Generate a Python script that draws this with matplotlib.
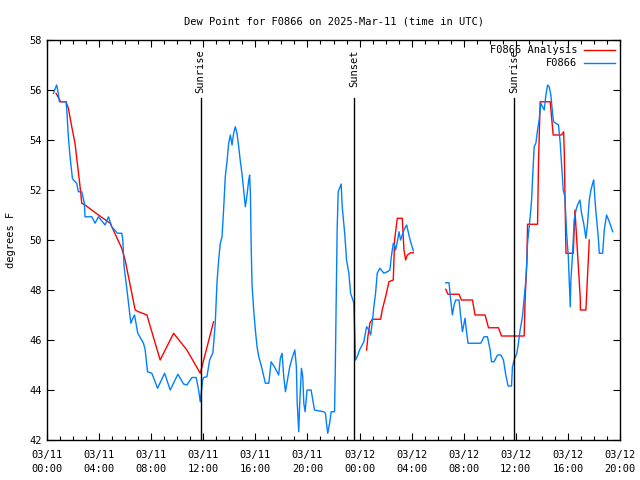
import numpy as np
import matplotlib
matplotlib.use("Agg")
import matplotlib.pyplot as plt

plt.rcParams['font.family'] = ['DejaVu Sans Mono']

title = "Dew Point for F0866 on 2025-Mar-11 (time in UTC)"
ylabel = "degrees F"
x_tick_hours = [0, 4, 8, 12, 16, 20, 24, 28, 32, 36, 40, 44]
x_tick_labels = ["03/11\n00:00", "03/11\n04:00", "03/11\n08:00", "03/11\n12:00",
                 "03/11\n16:00", "03/11\n20:00", "03/12\n00:00", "03/12\n04:00",
                 "03/12\n08:00", "03/12\n12:00", "03/12\n16:00", "03/12\n20:00"]
y_ticks = [42, 44, 46, 48, 50, 52, 54, 56, 58]

events = ["Sunrise", "Sunset", "Sunrise"]
event_hours = [11.79, 23.56, 35.87]

# hours since 03/11 00:00 UTC
obs_hours = [0.49, 0.74, 0.87, 0.95, 1.46, 1.52, 1.64, 1.77, 1.95, 2.03, 2.28, 2.41, 2.67,
             2.87, 2.92, 3.44, 3.69, 3.95, 4.46, 4.72, 4.97, 5.41, 5.74, 5.82, 5.92, 6.08,
             6.26, 6.44, 6.59, 6.72, 6.97, 7.41, 7.54, 7.72, 8.05, 8.49, 9.03, 9.46, 10.05,
             10.49, 10.74, 11.13, 11.46, 11.64, 11.77, 11.95, 12.03, 12.28, 12.49, 12.74,
             12.92, 13.05, 13.18, 13.31, 13.44, 13.56, 13.69, 13.82, 13.95, 14.08, 14.21,
             14.33, 14.46, 14.59, 14.72, 14.85, 14.97, 15.1, 15.23, 15.36, 15.49, 15.56,
             15.62, 15.67, 15.74, 15.87, 16.0, 16.13, 16.26, 16.44, 16.59, 16.77, 17.03,
             17.21, 17.46, 17.79, 17.92, 18.05, 18.18, 18.31, 18.44, 18.64, 18.82, 19.03,
             19.15, 19.21, 19.33, 19.41, 19.54, 19.64, 19.72, 19.82, 19.97, 20.28, 20.54,
             21.26, 21.38, 21.46, 21.56, 21.72, 21.82, 22.08, 22.13, 22.21, 22.28, 22.36,
             22.46, 22.59, 22.67, 22.79, 22.87, 23.0, 23.18, 23.31, 23.49, 23.56, 23.62,
             23.69, 23.82, 24.0, 24.33, 24.54, 24.72, 24.85, 24.97, 25.1, 25.23, 25.36,
             25.56, 25.87, 26.13, 26.33, 26.44, 26.59, 26.69, 26.77, 26.9, 27.03, 27.15,
             27.28, 27.41, 27.54, 27.62, 27.79, 27.92, 28.13, 29.4,
             30.62, 30.87, 30.95, 31.0, 31.13, 31.26, 31.38, 31.64, 31.77, 31.9, 32.03,
             32.1, 32.23, 32.33, 33.31, 33.56, 33.82, 34.03, 34.13, 34.33, 34.59, 34.85,
             35.05, 35.23, 35.41, 35.67, 35.74, 35.87, 36.08, 36.18, 36.33, 36.51, 36.77,
             36.85, 36.9, 37.1, 37.21, 37.28, 37.41, 37.54, 37.67, 37.79, 37.92, 38.05,
             38.18, 38.31, 38.44, 38.56, 38.69, 38.82, 38.9, 39.08, 39.28, 39.41, 39.51,
             39.64, 39.77, 39.9, 40.03, 40.1, 40.18, 40.23, 40.36, 40.49, 40.62, 40.74,
             40.92, 41.05, 41.21, 41.38, 41.51, 41.64, 41.77, 41.9, 41.98, 42.08, 42.15,
             42.33, 42.41, 42.67, 42.79, 42.97, 43.18, 43.44]
obs_values = [55.87, 56.2, 55.87, 55.53, 55.53, 55.2, 54.13, 53.33, 52.47, 52.4, 52.27, 51.93,
              51.93, 51.47, 50.93, 50.93, 50.67, 50.93, 50.6, 50.93, 50.53, 50.27, 50.27,
              50.0, 48.93, 48.27, 47.47, 46.67, 46.87, 47.0, 46.27, 45.87, 45.6, 44.73,
              44.67, 44.07, 44.67, 44.0, 44.63, 44.24, 44.2, 44.5, 44.5, 44.0, 43.53, 44.4,
              44.5, 44.53, 45.2, 45.49, 46.67, 48.27, 49.2, 49.87, 50.13, 51.2, 52.53, 53.13,
              53.87, 54.2, 53.8, 54.27, 54.53, 54.27, 53.73, 53.13, 52.67, 52.0, 51.33, 51.8,
              52.4, 52.6, 51.87, 50.0, 48.27, 47.2, 46.4, 45.73, 45.33, 45.0, 44.67, 44.27,
              44.27, 45.13, 44.93, 44.6, 45.27, 45.47, 44.53, 43.93, 44.33, 44.93, 45.27,
              45.6, 44.93, 43.53, 42.33, 43.53, 44.87, 44.53, 43.47, 43.13, 44.0, 44.0, 43.2,
              43.13, 43.07, 42.67, 42.27, 42.73, 43.13, 43.13, 44.6, 47.53, 50.4, 51.93,
              52.07, 52.24, 51.33, 50.67, 50.2, 49.2, 48.67, 47.87, 47.6, 47.47, 46.4, 45.2,
              45.33, 45.6, 45.93, 46.53, 46.4, 46.2, 46.67, 47.33, 47.87, 48.67, 48.87, 48.67,
              48.73, 48.8, 49.33, 49.87, 49.8, 49.6, 49.93, 50.33, 50.0, 50.2, 50.4, 50.53,
              50.6, 50.2, 49.93, 49.57, np.nan,
              48.29, 48.29, 47.87, 47.6, 47.0, 47.4, 47.6, 47.6, 46.93, 46.33, 46.67, 46.87,
              46.27, 45.87, 45.87, 46.13, 46.13, 45.6, 45.13, 45.13, 45.4, 45.4, 45.2, 44.6,
              44.16, 44.16, 44.93, 45.2, 45.47, 45.8, 46.4, 46.93, 48.4, 49.2, 49.87, 50.93,
              51.6, 52.4, 53.73, 53.87, 54.4, 54.8, 55.47, 55.33, 55.2, 55.8, 56.2, 56.13,
              55.8, 55.07, 54.73, 54.67, 54.6, 53.87, 53.07, 52.0, 51.73, 50.27, 49.33, 48.4,
              47.33, 48.4, 49.47, 50.8, 51.2, 51.4, 51.6, 51.07, 50.67, 50.07, 50.67, 51.6,
              52.0, 52.27, 52.4, 51.6, 51.13, 50.13, 49.47, 49.47, 50.4, 51.0, 50.73, 50.33]

ana_hours = [0.69, 1.05, 1.46, 1.64, 1.9, 2.15, 2.33, 2.54, 2.67, 2.92, 3.95, 4.85, 5.74,
             6.0, 6.77, 7.03, 7.67, 8.69, 9.72, 10.74, 11.77, 12.79, 18.0,
             24.54, 24.64, 24.79, 24.97, 25.62, 25.74, 26.0, 26.26, 26.59, 26.69, 26.9,
             27.28, 27.41, 27.54, 27.67, 27.92, 28.13, 29.4,
             30.62, 30.79, 31.64, 31.82, 32.67, 32.87, 33.64, 33.9, 34.67, 34.9, 36.64,
             36.72, 36.85, 36.9, 37.67, 37.74, 37.87, 38.64, 38.87, 39.51, 39.67, 39.72,
             39.85, 40.41, 40.54, 40.74, 40.95, 40.96, 41.38, 41.51, 41.64]
ana_values = [55.87, 55.53, 55.53, 55.27, 54.53, 53.87, 53.07, 52.13, 51.47, 51.4, 51.0,
              50.67, 49.67, 49.2, 47.2, 47.13, 47.0, 45.2, 46.27, 45.6, 44.67, 46.73, np.nan,
              45.6, 46.13, 46.67, 46.83, 46.83, 47.2, 47.73, 48.33, 48.4, 50.0, 50.87, 50.87,
              49.6, 49.2, 49.4, 49.49, 49.49, np.nan,
              48.03, 47.83, 47.83, 47.6, 47.6, 47.0, 47.0, 46.49, 46.49, 46.16, 46.16, 47.73,
              49.13, 50.63, 50.63, 53.07, 55.53, 55.53, 54.2, 54.2, 54.33, 53.53, 49.47,
              49.47, 51.2, 49.47, 47.67, 47.2, 47.2, 48.6, 50.0]

fig = plt.figure(figsize=(6.4, 4.8), dpi=100)
ax = fig.add_axes([47/640, 40/480, 573/640, 400/480])

ax.plot(ana_hours, ana_values, color='#ff0000', lw=1.0, label='F0866 Analysis')
ax.plot(obs_hours, obs_values, color='#0080ff', lw=1.0, label='F0866')

for name, h in zip(events, event_hours):
    ax.axvline(h, ymin=0, ymax=(440-98)/400, color='black', lw=1.0)
    ax.text(h, 57.62, name, rotation=90, ha='center', va='top', fontsize=7.5)

ax.set_xlim(0, 44)
ax.set_ylim(42, 58)
ax.set_xticks(x_tick_hours)
ax.set_xticklabels(x_tick_labels, linespacing=1.55)
ax.set_xticks(np.arange(0, 45, 1), minor=True)
ax.set_yticks(y_ticks)
ax.tick_params(axis='both', which='major', direction='in', length=5, width=0.8,
               top=True, right=True, labelsize=7.5, pad=4)
ax.tick_params(axis='x', which='major', pad=7)
ax.tick_params(axis='both', which='minor', direction='in', length=3, width=0.8,
               top=True, right=True)
for s in ax.spines.values():
    s.set_linewidth(1.0)

ax.set_title(title, fontsize=7.5, pad=11.5)
ax.set_ylabel(ylabel, fontsize=7.5, labelpad=9)

leg = ax.legend(loc='upper right', frameon=False, fontsize=7.5, handlelength=3.0,
                markerfirst=False, borderaxespad=0.1, labelspacing=0.3, handletextpad=0.6)
for t in leg.get_texts():
    t.set_ha('right')

fig.savefig('out.png', dpi=100)
